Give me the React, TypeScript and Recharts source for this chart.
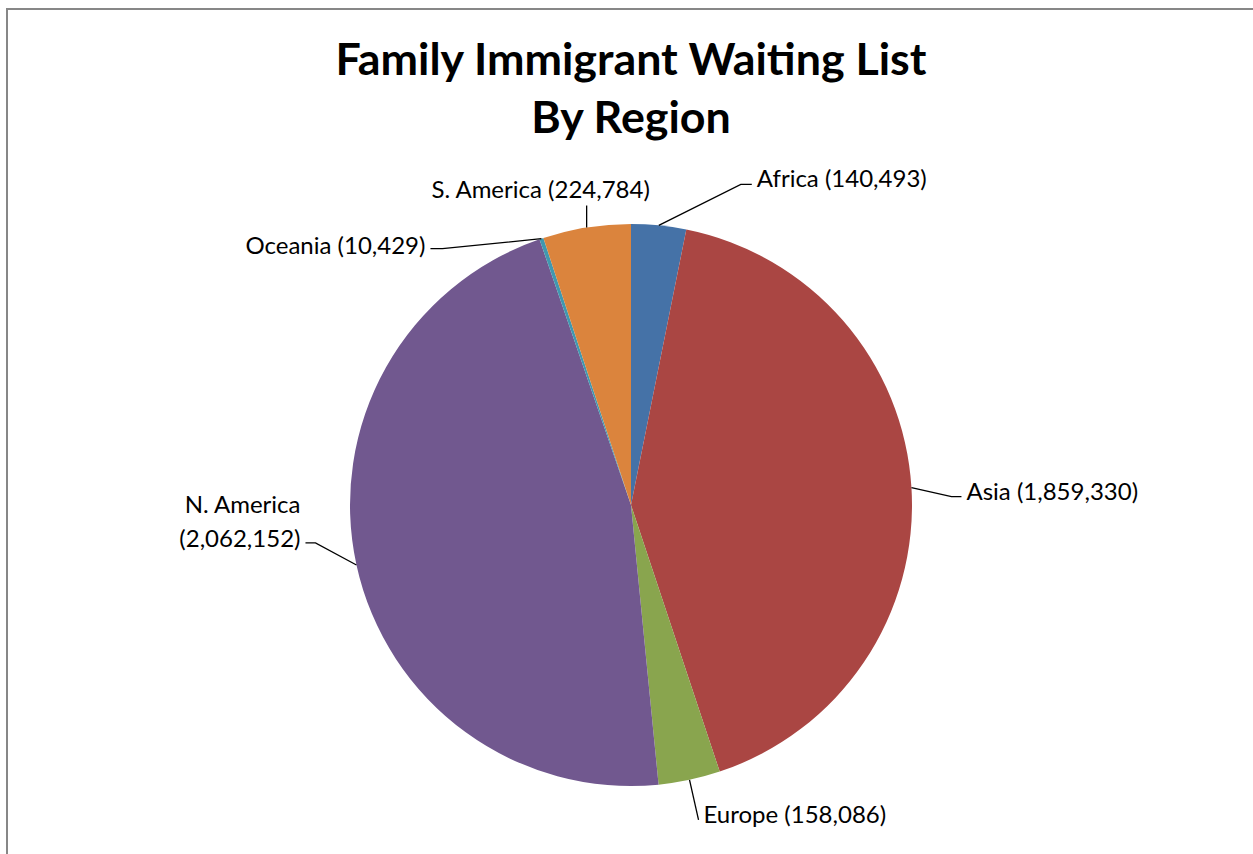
import { PieChart, Pie, Cell } from 'recharts';

const regions = ['Africa', 'Asia', 'Europe', 'N. America', 'Oceania', 'S. America'];
const waiting = [140493, 1859330, 158086, 2062152, 10429, 224784];
const sliceColors = ['#4572A7', '#AA4643', '#89A54E', '#71588F', '#4198AF', '#DB843D'];

const data = regions.map((name, i) => ({ name, value: waiting[i] }));

// leader line bend / tail and text offset for each label, relative to the slice edge
const labelLayout = [
  { bx: 82, by: -41, tail: 11, tx: 5, ty: -7, anchor: 'start', wrap: false },
  { bx: 40, by: 9, tail: 10, tx: 5, ty: -7, anchor: 'start', wrap: false },
  { bx: 9, by: 40, tail: 0, tx: 5, ty: -7, anchor: 'start', wrap: false },
  { bx: -41, by: -22, tail: -10, tx: -5, ty: -40, anchor: 'end', wrap: true },
  { bx: -99, by: 10, tail: -12, tx: -5, ty: -5, anchor: 'end', wrap: false },
  { bx: 0, by: -22, tail: 0, tx: -46, ty: -18, anchor: 'middle', wrap: false },
];

const FONT = 'Lato, "Open Sans", sans-serif';
const RADIAN = Math.PI / 180;

const renderLabel = (props: any) => {
  const { cx, cy, midAngle, outerRadius, index } = props;
  const lay = labelLayout[index];
  const ex = cx + outerRadius * Math.cos(-midAngle * RADIAN);
  const ey = cy + outerRadius * Math.sin(-midAngle * RADIAN);
  const mx = ex + lay.bx;
  const my = ey + lay.by;
  const endX = mx + lay.tail;
  const num = `(${waiting[index].toLocaleString('en-US')})`;
  const lines = lay.wrap ? [regions[index], num] : [`${regions[index]} ${num}`];
  return (
    <g key={`lbl-${index}`}>
      <polyline
        points={`${ex},${ey} ${mx},${my} ${endX},${my}`}
        fill="none"
        stroke="#000"
        strokeWidth={1.3}
      />
      <text
        x={endX + lay.tx}
        y={my + lay.ty}
        textAnchor={lay.anchor}
        dominantBaseline="central"
        fontFamily={FONT}
        fontSize={24}
        fill="#000"
      >
        {lines.map((l, k) => (
          <tspan key={k} x={endX + lay.tx} dy={k === 0 ? 0 : 34}>
            {l}
          </tspan>
        ))}
      </text>
    </g>
  );
};

export default function App() {
  return (
    <div style={{ position: 'absolute', left: 0, top: 0, width: 1253, height: 854, overflow: 'hidden', background: '#fff' }}>
      <div
        style={{
          position: 'absolute',
          left: 6,
          top: 8,
          width: 1300,
          height: 900,
          borderLeft: '2px solid #878787',
          borderTop: '2px solid #878787',
        }}
      />
      <div style={{ position: 'absolute', left: 0, top: 0 }}>
        <PieChart width={1253} height={854} margin={{ top: 0, right: 0, bottom: 0, left: 0 }}>
          <text x={631} y={75} textAnchor="middle" fontFamily={FONT} fontWeight="bold" fontSize={44.8} fill="#000">
            Family Immigrant Waiting List
          </text>
          <text x={631} y={133} textAnchor="middle" fontFamily={FONT} fontWeight="bold" fontSize={44.8} fill="#000">
            By Region
          </text>
          <Pie
            data={data}
            dataKey="value"
            nameKey="name"
            cx={631}
            cy={505}
            outerRadius={281}
            startAngle={90}
            endAngle={-270}
            stroke="none"
            label={renderLabel}
            labelLine={false}
            isAnimationActive={false}
          >
            {data.map((d, i) => (
              <Cell key={d.name} fill={sliceColors[i]} />
            ))}
          </Pie>
        </PieChart>
      </div>
    </div>
  );
}
